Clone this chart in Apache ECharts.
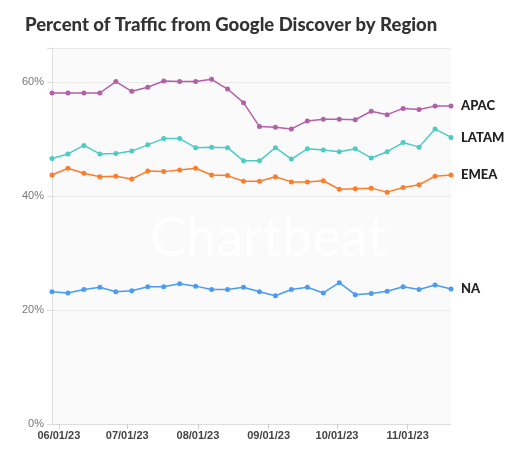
<!DOCTYPE html>
<html><head><meta charset="utf-8">
<script src="https://cdn.jsdelivr.net/npm/echarts@6/dist/echarts.min.js"></script>
<style>html,body{margin:0;padding:0;background:#fff}#c{width:508px;height:451px}</style>
</head><body><div id="c"></div>
<script>
const startDate = '2023-05-29';
const apac = [58.1,58.1,58.1,58.1,60.1,58.4,59.1,60.2,60.1,60.1,60.5,58.8,56.4,52.2,52.1,51.8,53.2,53.5,53.5,53.4,54.9,54.3,55.4,55.2,55.8,55.8];
const latam = [46.6,47.4,48.9,47.4,47.5,47.9,49.0,50.1,50.1,48.5,48.6,48.5,46.2,46.2,48.5,46.5,48.3,48.1,47.8,48.3,46.7,47.8,49.4,48.6,51.8,50.3];
const emea = [43.7,44.9,44.0,43.4,43.5,43.0,44.4,44.3,44.6,44.9,43.7,43.6,42.6,42.6,43.4,42.5,42.5,42.7,41.2,41.3,41.4,40.7,41.5,42.0,43.5,43.7];
const na = [23.2,23.0,23.6,24.0,23.2,23.4,24.1,24.1,24.6,24.2,23.6,23.6,24.0,23.2,22.5,23.6,24.0,23.0,24.8,22.7,22.9,23.3,24.1,23.6,24.4,23.7];
const yTicks = [0,20,40,60];
const t0 = Date.parse(startDate+'T00:00:00Z');
const dates = apac.map((_,i)=>t0+i*7*86400000);
const monthTicks = ['2023-06-01','2023-07-01','2023-08-01','2023-09-01','2023-10-01','2023-11-01'].map(d=>Date.parse(d+'T00:00:00Z'));
function mk(name,data,color){
  return {name,type:'line',data:data.map((v,i)=>[dates[i],v]),symbol:'circle',symbolSize:5,
    lineStyle:{width:1.5,color},itemStyle:{color},
    endLabel:{show:true,formatter:name,fontWeight:900,fontSize:13,color:'#222',distance:10,fontFamily:'Lato, sans-serif'}};
}
const chart = echarts.init(document.getElementById('c'));
chart.setOption({
  animation:false,
  title:{text:'Percent of Traffic from Google Discover by Region',left:20,top:11,
    textStyle:{fontSize:18.5,fontWeight:900,color:'#333',fontFamily:'Lato, sans-serif'}},
  grid:{left:52,right:57,top:48,bottom:27,backgroundColor:'#fafafa',show:true,borderWidth:0},
  graphic:[{type:'text',left:150,top:212,z:1,style:{text:'Chartbeat',fontSize:54,fill:'rgba(255,255,255,0.95)',fontFamily:'Lato, sans-serif'}}],
  xAxis:{type:'value',min:dates[0],max:dates[dates.length-1],
    axisLine:{lineStyle:{color:'#ddd'}},
    axisTick:{show:true,customValues:monthTicks,lineStyle:{color:'#ccc'}},
    axisLabel:{customValues:monthTicks,color:'#444',fontWeight:'bold',fontSize:11,margin:6,
      formatter:v=>{const d=new Date(v);return String(d.getUTCMonth()+1).padStart(2,'0')+'/'+String(d.getUTCDate()).padStart(2,'0')+'/23';}},
    splitLine:{show:false}},
  yAxis:{type:'value',min:0,max:66,interval:20,
    axisLine:{show:true,lineStyle:{color:'#ddd'}},
    axisLabel:{color:'#777',fontSize:11,formatter:v=>yTicks.includes(v)?v+'%':''},
    splitLine:{lineStyle:{color:'#eaeaea'}}},
  series:[mk('APAC',apac,'#b35fa9'),mk('LATAM',latam,'#4ecbc6'),mk('EMEA',emea,'#fb7e2c'),mk('NA',na,'#4a9cf2')]
});
</script></body></html>
